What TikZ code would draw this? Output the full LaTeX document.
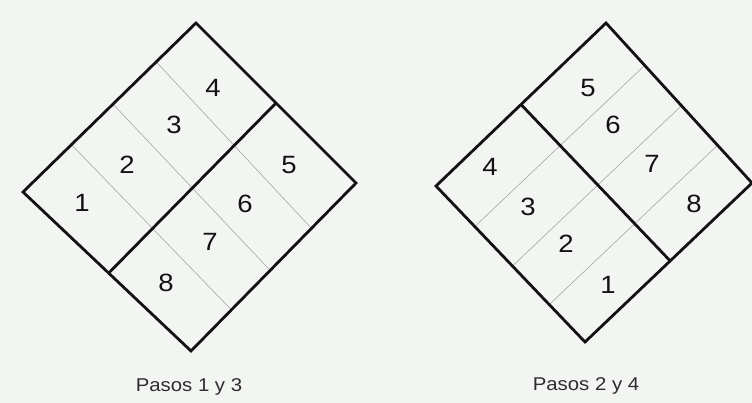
\documentclass[tikz,border=0pt]{standalone}
\usepackage{fontspec}
\setmainfont{Liberation Sans}[FakeStretch=1.1]
\usetikzlibrary{calc}
\definecolor{bg}{RGB}{243,245,242}
\definecolor{ink}{RGB}{18,18,18}
\definecolor{foldc}{RGB}{160,162,160}
\definecolor{captxt}{RGB}{45,45,45}
\begin{document}
\begin{tikzpicture}[x=1pt,y=-1pt,
  outline/.style={draw=ink,line width=2.8pt,line join=miter},
  divider/.style={draw=ink,line width=2.8pt},
  fold/.style={draw=foldc,line width=0.55pt},
  num/.style={text=ink,font=\fontsize{25}{25}\selectfont,inner sep=0pt},
  captiontext/.style={text=captxt,font=\fontsize{18.5}{18.5}\selectfont,inner sep=0pt}]
\fill[bg] (0,0) rectangle (752,403);
\useasboundingbox (0,0) rectangle (752,403);
% ---------- left diamond ----------
\coordinate (A) at (23,192);
\coordinate (B) at (196,23);
\coordinate (C) at (356,183);
\coordinate (D) at (191,351);
\draw[fold] ($(A)!0.28!(B)$) -- ($(D)!0.245!(C)$);
\draw[fold] ($(A)!0.52!(B)$) -- ($(D)!0.48!(C)$);
\draw[fold] ($(A)!0.77!(B)$) -- ($(D)!0.73!(C)$);
\draw[divider] ($(A)!0.51!(D)$) -- ($(B)!0.5!(C)$);
\draw[outline] (A) -- (B) -- (C) -- (D) -- cycle;
\node[num] (l1) at (82,203) {1};
\node[num] (l2) at (127,165) {2};
\node[num] (l3) at (174,125) {3};
\node[num] (l4) at (213,88) {4};
\node[num] (l5) at (289,165) {5};
\node[num] (l6) at (245,204) {6};
\node[num] (l7) at (210,242) {7};
\node[num] (l8) at (166,283) {8};
\node[captiontext] (capL) at (189,387) {Pasos 1 y 3};
% ---------- right diamond ----------
\coordinate (P) at (436,186);
\coordinate (Q) at (606,23);
\coordinate (R) at (752,183);
\coordinate (S) at (585,342);
\draw[fold] ($(P)!0.26!(S)$) -- ($(Q)!0.265!(R)$);
\draw[fold] ($(P)!0.513!(S)$) -- ($(Q)!0.517!(R)$);
\draw[fold] ($(P)!0.76!(S)$) -- ($(Q)!0.764!(R)$);
\draw[divider] ($(P)!0.5!(Q)$) -- ($(S)!0.51!(R)$);
\draw[outline] (P) -- (Q) -- (R) -- (S) -- cycle;
\node[num] (r4) at (490,167) {4};
\node[num] (r3) at (528,207) {3};
\node[num] (r2) at (566,244) {2};
\node[num] (r1) at (608,285) {1};
\node[num] (r5) at (588,88) {5};
\node[num] (r6) at (613,125) {6};
\node[num] (r7) at (652,164) {7};
\node[num] (r8) at (694,204) {8};
\node[captiontext] (capR) at (586,386) {Pasos 2 y 4};
\end{tikzpicture}
\end{document}
